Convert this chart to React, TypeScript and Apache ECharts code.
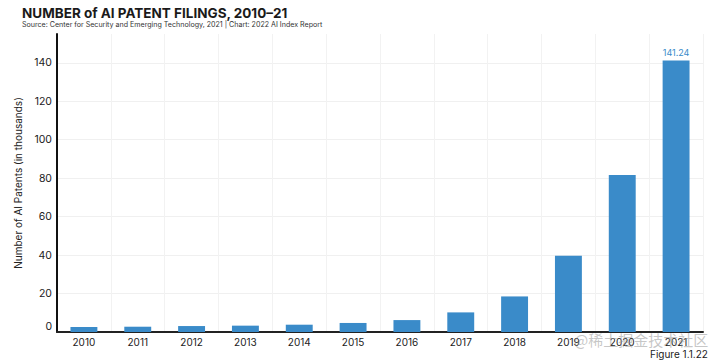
import React, { useEffect, useRef } from "react";
import * as echarts from "echarts";

const years = ["2010", "2011", "2012", "2013", "2014", "2015", "2016", "2017", "2018", "2019", "2020", "2021"];
const patents = [2.6, 2.75, 3.1, 3.3, 3.8, 4.7, 6.2, 10.2, 18.5, 39.6, 81.6, 141.24];
const yTicks = [0, 20, 40, 60, 80, 100, 120, 140];

const TITLE = "NUMBER of AI PATENT FILINGS, 2010–21";
const SUBTITLE = "Source: Center for Security and Emerging Technology, 2021 | Chart: 2022 AI Index Report";
const Y_NAME = "Number of AI Patents (in thousands)";
const FIGURE = "Figure 1.1.22";
const WATERMARK = "@稀土掘金技术社区";

const FONT = "Inter, Roboto, 'Noto Sans', sans-serif";
const BAR = "#3a8bc9";

export default function App() {
  const ref = useRef<HTMLDivElement>(null);
  useEffect(() => {
    if (!ref.current) return;
    const chart = echarts.init(ref.current, undefined, { renderer: "svg" });
    chart.setOption({
      animation: false,
      backgroundColor: "#ffffff",
      textStyle: { fontFamily: FONT },
      title: [
        {
          text: TITLE,
          left: 22,
          top: 6,
          padding: 0,
          textStyle: { fontSize: 13.5, fontWeight: "bold", color: "#1a1a1a", fontFamily: FONT },
        },
        {
          text: SUBTITLE,
          left: 22,
          top: 21,
          padding: 0,
          textStyle: { fontSize: 7.1, fontWeight: "normal", color: "#333333", fontFamily: FONT },
        },
      ],
      graphic: [
        {
          type: "text",
          left: 650,
          top: 349,
          style: { text: FIGURE, fontSize: 10, fill: "#222222", fontFamily: FONT },
        },
        {
          type: "text",
          left: 574,
          top: 332,
          z: 100,
          style: { text: WATERMARK, fontSize: 15, fill: "rgba(150,150,150,0.55)", fontFamily: "'Noto Sans CJK SC', sans-serif" },
        },
      ],
      grid: { left: 57, right: 17, top: 34, bottom: 31, containLabel: false },
      xAxis: {
        type: "category",
        data: years,
        axisLine: { show: true, lineStyle: { color: "#222222", width: 2 } },
        axisTick: { show: false },
        axisLabel: { color: "#222222", fontSize: 10, margin: 5, fontFamily: FONT },
        splitLine: { show: true, lineStyle: { color: "#f2f2f2", width: 1 } },
      },
      yAxis: {
        type: "value",
        min: 0,
        max: 155,
        interval: 20,
        name: Y_NAME,
        nameLocation: "middle",
        nameGap: 23,
        nameTextStyle: { fontSize: 10, color: "#222222", fontFamily: FONT },
        axisLine: { show: true, lineStyle: { color: "#111111", width: 2 } },
        axisTick: { show: false },
        axisLabel: {
          color: "#222222",
          fontSize: 10.5,
          margin: 5,
          fontFamily: FONT,
          showMaxLabel: false,
          formatter: (v: number) => {
            if (!yTicks.includes(v)) return "";
            return v === 0 ? "{z|0}" : String(v);
          },
          rich: { z: { fontSize: 10.5, color: "#222222", padding: [0, 0, 11, 0], fontFamily: FONT } },
        },
        splitLine: { show: true, showMaxLine: false, lineStyle: { color: "#f0f0f0", width: 1 } },
      },
      series: [
        {
          type: "bar",
          data: patents.map((v, i) => ({
            value: v,
            label: {
              show: i === patents.length - 1,
              position: "top",
              distance: 3,
              color: BAR,
              fontSize: 9,
              fontFamily: FONT,
              formatter: (p: any) => Number(p.value).toFixed(2),
            },
          })),
          barWidth: "50%",
          itemStyle: { color: BAR },
        },
      ],
    });
    return () => chart.dispose();
  }, []);
  return <div ref={ref} style={{ width: 720, height: 363, position: "absolute", left: 0, top: 0 }} />;
}
